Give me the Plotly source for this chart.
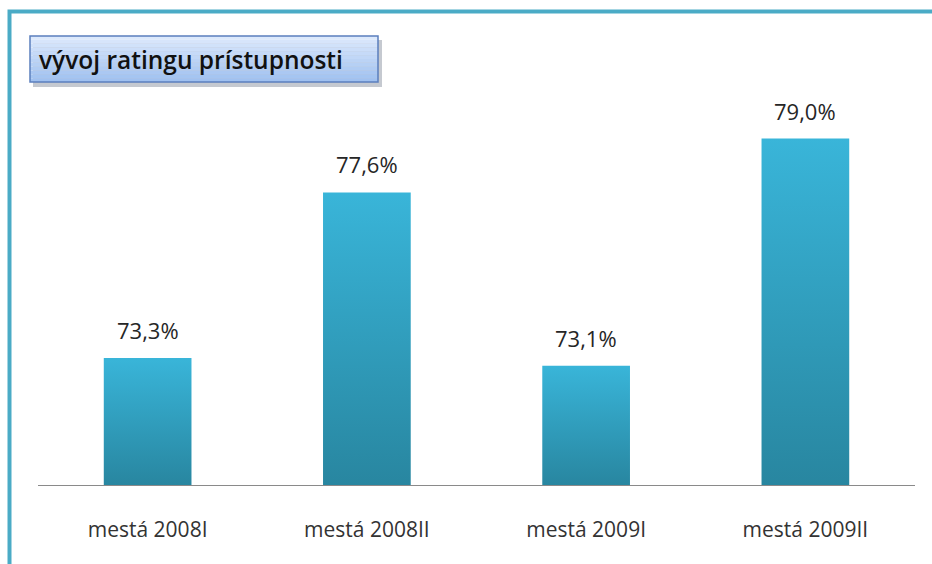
import plotly.graph_objects as go

categories = ["mestá 2008I", "mestá 2008II", "mestá 2009I", "mestá 2009II"]
ratings = [73.3, 77.6, 73.1, 79.0]
labels = ["73,3%", "77,6%", "73,1%", "79,0%"]
title_text = "vývoj ratingu prístupnosti"

W, H = 932, 564
L, R, T, B = 38, 17, 100, 79
y_min, y_max = 70, 80
half = 0.2  # half bar width in category units


def px_x(px):
    return (px - L) / (W - L - R)


def px_y(py):
    return (H - B - py) / (H - T - B)


fig = go.Figure()

# bars drawn as filled polygons so they can carry a vertical gradient
for i, v in enumerate(ratings):
    fig.add_trace(go.Scatter(
        x=[i - half, i + half, i + half, i - half, i - half],
        y=[y_min, y_min, v, v, y_min],
        mode="lines", line=dict(width=0),
        fill="toself",
        fillgradient=dict(type="vertical",
                          colorscale=[[0, "#2886a0"], [1, "#39b5d9"]]),
        hoverinfo="skip", showlegend=False,
    ))

for i, (v, t) in enumerate(zip(ratings, labels)):
    fig.add_annotation(x=i, y=v, text=t, showarrow=False, yanchor="bottom",
                       yshift=11, font=dict(size=22, color="#262626"))

shapes = []
# slide frame
shapes.append(dict(type="rect", xref="paper", yref="paper",
                   x0=px_x(9.5), x1=px_x(990), y0=px_y(640), y1=px_y(11.5),
                   line=dict(color="#4aabc6", width=4), fillcolor="rgba(0,0,0,0)",
                   layer="below"))
# title box shadow
shapes.append(dict(type="rect", xref="paper", yref="paper",
                   x0=px_x(33), x1=px_x(382), y0=px_y(87), y1=px_y(40),
                   line=dict(width=0), fillcolor="rgba(90,100,120,0.35)"))
# title box gradient strips
top_c = (220, 233, 252)
bot_c = (160, 193, 240)
n = 12
box_top, box_bot = 36, 82
for k in range(n):
    f = k / (n - 1)
    c = tuple(round(top_c[j] + (bot_c[j] - top_c[j]) * f) for j in range(3))
    y0 = box_top + (box_bot - box_top) * k / n
    y1 = box_top + (box_bot - box_top) * (k + 1) / n
    shapes.append(dict(type="rect", xref="paper", yref="paper",
                       x0=px_x(30), x1=px_x(378), y0=px_y(y1), y1=px_y(y0),
                       line=dict(width=0), fillcolor="rgb(%d,%d,%d)" % c))
shapes.append(dict(type="rect", xref="paper", yref="paper",
                   x0=px_x(30), x1=px_x(378), y0=px_y(box_bot), y1=px_y(box_top),
                   line=dict(color="#5b7fbd", width=1.5), fillcolor="rgba(0,0,0,0)"))

fig.add_annotation(xref="paper", yref="paper", x=px_x(37), y=px_y(60),
                   xanchor="left", yanchor="middle", showarrow=False,
                   text=title_text,
                   font=dict(size=24.5, color="#111111", weight=600))

fig.update_layout(
    width=W, height=H,
    margin=dict(l=L, r=R, t=T, b=B),
    paper_bgcolor="white", plot_bgcolor="white",
    font=dict(family="Open Sans, Lato, sans-serif"),
    shapes=shapes,
    showlegend=False,
    xaxis=dict(range=[-0.5, len(categories) - 0.5],
               tickvals=list(range(len(categories))), ticktext=categories,
               showgrid=False, zeroline=False, showline=True,
               linecolor="#8a8a8a", linewidth=1, ticks="",
               tickfont=dict(size=21, color="#333333"), ticklabelstandoff=26),
    yaxis=dict(range=[y_min, y_max], visible=False, showgrid=False),
)

fig.write_html("out.html", config={"displayModeBar": False},
               post_script="document.body.style.margin='0';")
